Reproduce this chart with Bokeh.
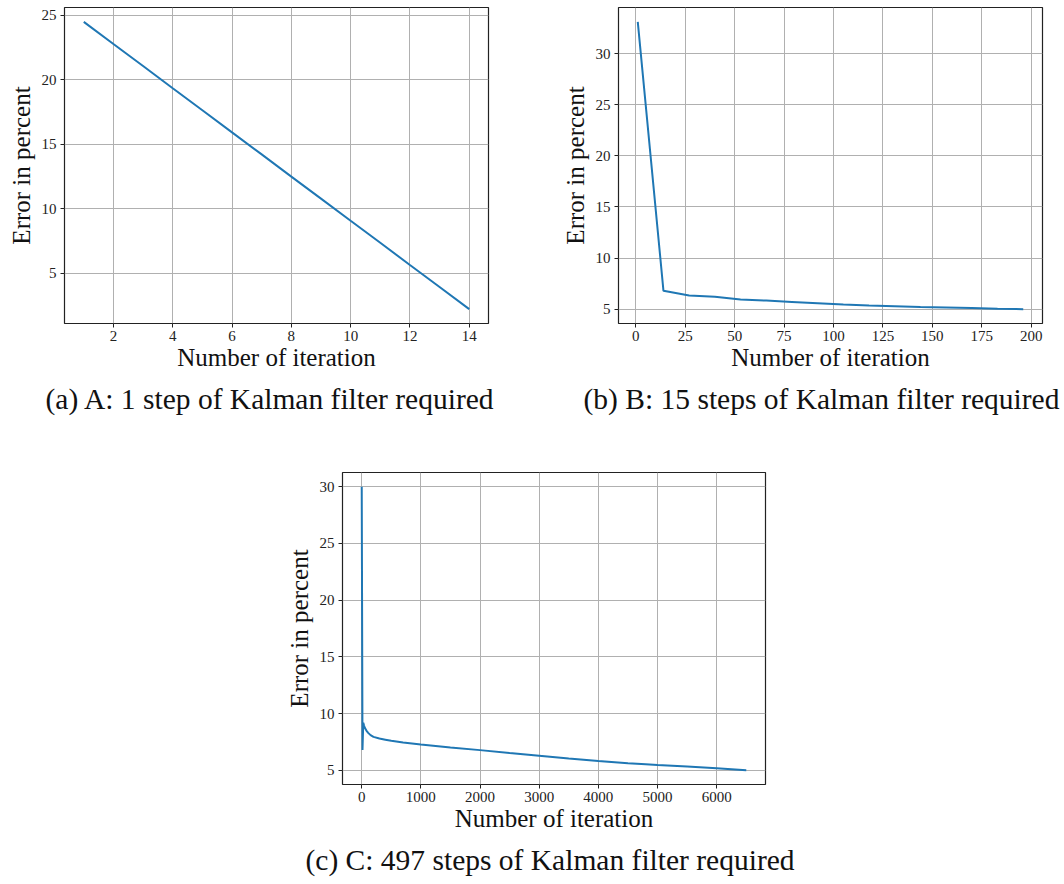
from bokeh.plotting import figure
from bokeh.models import Range1d, FixedTicker, Title, Spacer
from bokeh.layouts import row, column
from bokeh.embed import file_html
from bokeh.resources import INLINE

# ---------------- data ----------------
a_iter = [1, 2, 3, 4, 5, 6, 7, 8, 9, 10, 11, 12, 13, 14]
a_err = [24.50, 22.78, 21.07, 19.35, 17.64, 15.92, 14.21, 12.49, 10.78, 9.06, 7.35, 5.63, 3.92, 2.20]

b_iter = [1, 14, 27, 40, 53, 66, 79, 92, 105, 118, 131, 144, 157, 170, 183, 196]
b_err = [33.1, 6.79, 6.33, 6.20, 5.94, 5.84, 5.71, 5.58, 5.45, 5.36, 5.29, 5.22, 5.16, 5.10, 5.03, 5.00]

c_iter = [1, 14, 27, 40, 53, 80, 110, 150, 200, 300, 400, 500, 700, 1000, 1500, 2000,
          2500, 3000, 3500, 4000, 4500, 4800, 5000, 5500, 6000, 6500]
c_err = [30.0, 6.8, 9.2, 8.95, 8.75, 8.5, 8.3, 8.1, 7.95, 7.8, 7.7, 7.6, 7.45, 7.28, 7.02, 6.78,
         6.53, 6.29, 6.05, 5.82, 5.62, 5.53, 5.47, 5.33, 5.18, 5.00]

a_xticks = [2, 4, 6, 8, 10, 12, 14]
a_yticks = [5, 10, 15, 20, 25]
b_xticks = [0, 25, 50, 75, 100, 125, 150, 175, 200]
b_yticks = [5, 10, 15, 20, 25, 30]
c_xticks = [0, 1000, 2000, 3000, 4000, 5000, 6000]
c_yticks = [5, 10, 15, 20, 25, 30]

x_label = "Number of iteration"
y_label = "Error in percent"
captions = [
    "(a) A: 1 step of Kalman filter required",
    "(b) B: 15 steps of Kalman filter required",
    "(c) C: 497 steps of Kalman filter required",
]

SERIF = "Liberation Serif"


def padded(vals):
    lo, hi = min(vals), max(vals)
    m = 0.05 * (hi - lo)
    return Range1d(lo - m, hi + m)


def make(x, y, xt, yt, caption, w, h, bl, br, bt, bb, cap_off, cap_standoff):
    p = figure(width=w, height=h, output_backend="svg", toolbar_location=None,
               x_range=padded(x), y_range=padded(y))
    p.min_border_left = bl
    p.min_border_right = br
    p.min_border_top = bt
    p.min_border_bottom = bb
    p.line(x, y, line_color="#1f77b4", line_width=2)

    p.xaxis.ticker = FixedTicker(ticks=xt)
    p.yaxis.ticker = FixedTicker(ticks=yt)
    p.xaxis.axis_label = x_label
    p.yaxis.axis_label = y_label

    p.grid.grid_line_color = "#b0b0b0"
    p.grid.grid_line_width = 1
    p.outline_line_color = "#222222"
    p.outline_line_width = 1.2
    p.axis.axis_line_color = None
    p.axis.major_tick_out = 4
    p.axis.major_tick_in = 0
    p.axis.major_tick_line_color = "#222222"
    p.axis.minor_tick_line_color = None
    p.axis.major_label_text_font = SERIF
    p.axis.major_label_text_font_size = "15px"
    p.axis.major_label_text_color = "#222222"
    p.xaxis.major_label_standoff = 3
    p.yaxis.major_label_standoff = 4
    p.axis.axis_label_text_font = SERIF
    p.axis.axis_label_text_font_size = "25px"
    p.axis.axis_label_text_font_style = "normal"
    p.axis.axis_label_text_color = "#111111"
    p.xaxis.axis_label_standoff = 0
    p.yaxis.axis_label_standoff = 4

    t = Title(text=caption, align="left", offset=cap_off, text_font=SERIF,
              text_font_size="29.5px", text_font_style="normal", text_color="#111111",
              standoff=cap_standoff, vertical_align="bottom")
    p.add_layout(t, "below")
    return p


pa = make(a_iter, a_err, a_xticks, a_yticks, captions[0], 536, 425, 64, 48, 7, 102, -19, 15)
pb = make(b_iter, b_err, b_xticks, b_yticks, captions[1], 526, 425, 82, 20, 7, 102, -35, 15)
pc = make(c_iter, c_err, c_xticks, c_yticks, captions[2], 530, 458, 72, 35, 47, 97, -37, 15)

layout = column(row(pa, pb), row(Spacer(width=270, height=458), pc))

with open("out.html", "w") as f:
    f.write(file_html(layout, INLINE))
